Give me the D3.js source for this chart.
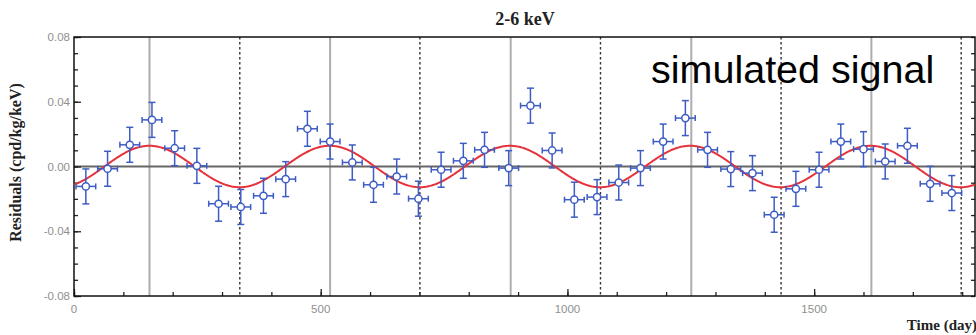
<!DOCTYPE html>
<html>
<head>
<meta charset="utf-8">
<script src="https://cdn.jsdelivr.net/npm/d3@7"></script>
<style>
  body { margin: 0; background: #fff; }
  svg { display: block; }
</style>
</head>
<body>
<div id="chart"></div>
<script>
// residuals, one entry per time bin
const days = [24, 68, 113, 158, 204, 249, 293, 338, 384, 429,
              473, 519, 564, 607, 654, 698, 744, 789, 832, 881,
              925, 969, 1014, 1060, 1104, 1148, 1194, 1239, 1284, 1331,
              1375, 1419, 1463, 1510, 1554, 1600, 1644, 1689, 1735, 1779];
const residuals = [-0.0123, -0.0014, 0.0134, 0.0288, 0.0113, 0.0004, -0.0230, -0.0250, -0.0181, -0.0078,
                   0.0233, 0.0154, 0.0025, -0.0113, -0.0062, -0.0199, -0.0020, 0.0035, 0.0103, -0.0010,
                   0.0376, 0.0099, -0.0205, -0.0189, -0.0099, -0.0010, 0.0154, 0.0299, 0.0103, -0.0016,
                   -0.0041, -0.0298, -0.0138, -0.0020, 0.0154, 0.0107, 0.0031, 0.0128, -0.0107, -0.0164];
const dayErr = 20;     // half bin width (days)
const resErr = 0.0108; // half error bar (cpd/kg/keV)

// expected maxima (solid) and minima (dashed) of the modulation
const maxDays = [153, 519, 885, 1251, 1616];
const minDays = [336, 701, 1067, 1433, 1798];

// fitted cosine  A cos(2pi/T (t - t0))
const modelAmp = 0.0128;
const modelPeriod = 365.25;
const modelPhase = 153;

const yTicks = [0.08, 0.04, 0.00, -0.04, -0.08];
const xTicks = [0, 500, 1000, 1500];

const W = 976, H = 335;
const margin = {top: 37, right: 1, bottom: 39, left: 74};
const blue = '#3d5cc4';
const red = '#e5323b';

const svg = d3.select('#chart').append('svg')
  .attr('width', W)
  .attr('height', H);

const x = d3.scaleLinear()
  .domain([0, 1826])
  .range([margin.left, W - margin.right]);
const y = d3.scaleLinear()
  .domain([-0.08, 0.08])
  .range([H - margin.bottom, margin.top]);

//vertical reference lines
svg.append('g').selectAll('line')
  .data(maxDays)
  .enter().append('line')
  .attr('x1', d => x(d)).attr('x2', d => x(d))
  .attr('y1', y(0.08)).attr('y2', y(-0.08))
  .style('stroke', '#adadad')
  .style('stroke-width', 2);

svg.append('g').selectAll('line')
  .data(minDays)
  .enter().append('line')
  .attr('x1', d => x(d)).attr('x2', d => x(d))
  .attr('y1', y(0.08)).attr('y2', y(-0.08))
  .style('stroke', '#333')
  .style('stroke-width', 1.4)
  .style('stroke-dasharray', '2.5,2.5');

//zero line
svg.append('line')
  .attr('x1', x.range()[0]).attr('x2', x.range()[1])
  .attr('y1', y(0)).attr('y2', y(0))
  .style('stroke', '#666')
  .style('stroke-width', 1.8);

//axes (ticks pointing inside)
const yMinor = d3.range(-0.08, 0.0801, 0.01);
const xMinor = d3.range(0, 1801, 100);

svg.append('g')
  .attr('transform', `translate(${margin.left},0)`)
  .call(d3.axisRight(y).tickValues(yMinor).tickSize(4).tickFormat(''))
  .call(g => g.select('.domain').remove());
svg.append('g')
  .attr('transform', `translate(${margin.left},0)`)
  .call(d3.axisRight(y).tickValues(yTicks).tickSize(7).tickFormat(''))
  .call(g => g.select('.domain').remove());
svg.append('g')
  .attr('transform', `translate(${W - margin.right},0)`)
  .call(d3.axisLeft(y).tickValues(yMinor).tickSize(4).tickFormat(''))
  .call(g => g.select('.domain').remove());

svg.append('g')
  .attr('transform', `translate(0,${H - margin.bottom})`)
  .call(d3.axisTop(x).tickValues(xMinor).tickSize(4).tickFormat(''))
  .call(g => g.select('.domain').remove());
svg.append('g')
  .attr('transform', `translate(0,${H - margin.bottom})`)
  .call(d3.axisTop(x).tickValues(xTicks).tickSize(7).tickFormat(''))
  .call(g => g.select('.domain').remove());

svg.selectAll('.tick line').style('stroke', '#222').style('stroke-width', 1.3);

//tick labels
svg.append('g').selectAll('text')
  .data(yTicks)
  .enter().append('text')
  .attr('x', margin.left - 4)
  .attr('y', d => y(d) + 4)
  .attr('text-anchor', 'end')
  .style('font-family', 'Liberation Sans, Arial, sans-serif')
  .style('font-size', '11.5px')
  .style('fill', '#8f8f8f')
  .text(d => d3.format('.2f')(d).replace('\u2212', '-'));

svg.append('g').selectAll('text')
  .data(xTicks)
  .enter().append('text')
  .attr('x', d => x(d))
  .attr('y', H - margin.bottom + 17)
  .attr('text-anchor', 'middle')
  .style('font-family', 'Liberation Sans, Arial, sans-serif')
  .style('font-size', '11.5px')
  .style('fill', '#8f8f8f')
  .text(d => d);

//frame
svg.append('rect')
  .attr('x', x.range()[0]).attr('y', y(0.08))
  .attr('width', x.range()[1] - x.range()[0])
  .attr('height', y(-0.08) - y(0.08))
  .style('fill', 'none')
  .style('stroke', '#111')
  .style('stroke-width', 1.5);

//model curve
const curveDays = d3.range(0, 1826.1, 2);
const line = d3.line()
  .x(d => x(d))
  .y(d => y(modelAmp * Math.cos(2 * Math.PI / modelPeriod * (d - modelPhase))));

svg.append('path')
  .datum(curveDays)
  .attr('d', line)
  .style('fill', 'none')
  .style('stroke', red)
  .style('stroke-width', 2);

//data points with error bars
const pts = days.map((d, i) => ({t: d, v: residuals[i]}));
const gp = svg.append('g').selectAll('g')
  .data(pts)
  .enter().append('g')
  .style('stroke', blue)
  .style('stroke-width', 1.5);

gp.append('line')
  .attr('x1', d => x(d.t - dayErr)).attr('x2', d => x(d.t + dayErr))
  .attr('y1', d => y(d.v)).attr('y2', d => y(d.v));
gp.append('line')
  .attr('x1', d => x(d.t)).attr('x2', d => x(d.t))
  .attr('y1', d => y(d.v - resErr)).attr('y2', d => y(d.v + resErr));
//caps
gp.append('line')
  .attr('x1', d => x(d.t) - 3.5).attr('x2', d => x(d.t) + 3.5)
  .attr('y1', d => y(d.v + resErr)).attr('y2', d => y(d.v + resErr));
gp.append('line')
  .attr('x1', d => x(d.t) - 3.5).attr('x2', d => x(d.t) + 3.5)
  .attr('y1', d => y(d.v - resErr)).attr('y2', d => y(d.v - resErr));
gp.append('line')
  .attr('x1', d => x(d.t - dayErr)).attr('x2', d => x(d.t - dayErr))
  .attr('y1', d => y(d.v) - 3).attr('y2', d => y(d.v) + 3);
gp.append('line')
  .attr('x1', d => x(d.t + dayErr)).attr('x2', d => x(d.t + dayErr))
  .attr('y1', d => y(d.v) - 3).attr('y2', d => y(d.v) + 3);
gp.append('circle')
  .attr('cx', d => x(d.t))
  .attr('cy', d => y(d.v))
  .attr('r', 3.6)
  .style('fill', '#fff');

//titles
svg.append('text')
  .attr('x', 525).attr('y', 25)
  .attr('text-anchor', 'middle')
  .style('font-family', 'Liberation Serif, Times New Roman, serif')
  .style('font-weight', 'bold')
  .style('font-size', '18px')
  .style('fill', '#222')
  .text('2-6 keV');

svg.append('text')
  .attr('transform', `translate(21,${(y(0.08) + y(-0.08)) / 2 - 4}) rotate(-90)`)
  .attr('text-anchor', 'middle')
  .style('font-family', 'Liberation Serif, Times New Roman, serif')
  .style('font-weight', 'bold')
  .style('font-size', '16px')
  .style('fill', '#222')
  .text('Residuals (cpd/kg/keV)');

svg.append('text')
  .attr('x', 977).attr('y', 330)
  .attr('text-anchor', 'end')
  .style('font-family', 'Liberation Serif, Times New Roman, serif')
  .style('font-weight', 'bold')
  .style('font-size', '15px')
  .style('fill', '#222')
  .text('Time (day)');

svg.append('text')
  .attr('x', 651).attr('y', 83)
  .style('font-family', 'Liberation Sans, Arial, Helvetica, sans-serif')
  .style('font-size', '39.5px')
  .style('fill', '#000')
  .text('simulated signal');
</script>
</body>
</html>
